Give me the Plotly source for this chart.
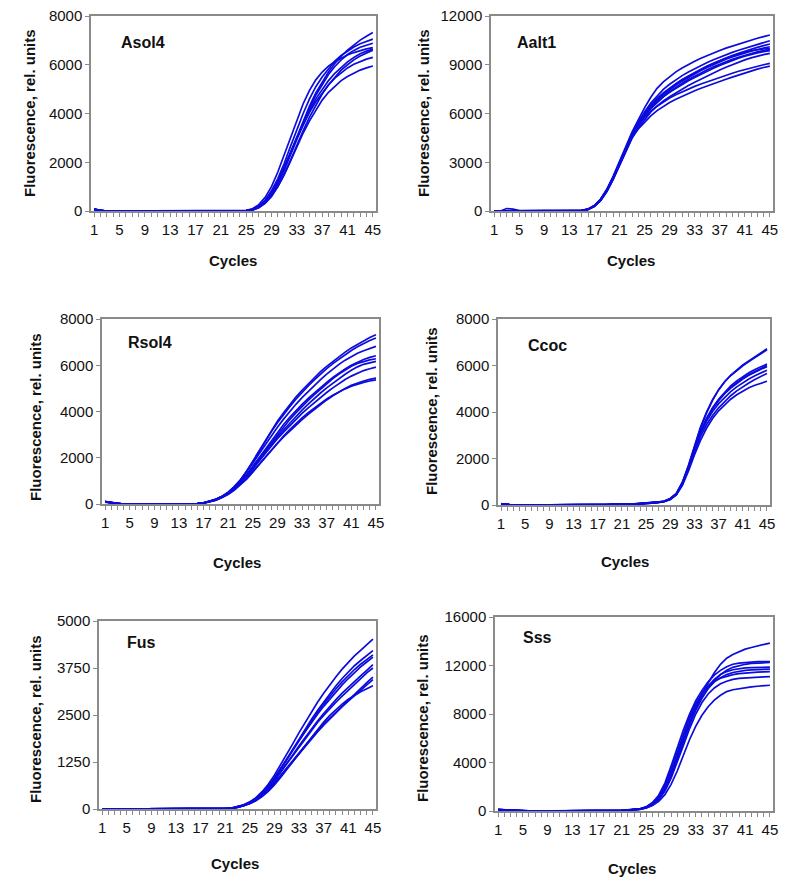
import plotly.graph_objects as go

# ---------------- data ----------------
cycles = list(range(1, 46))
x_label_cycles = [1, 5, 9, 13, 17, 21, 25, 29, 33, 37, 41, 45]

asol4 = [
    [80,20, 0,0,0,0,0,0,0,0,0,0, 0,0,0,0,0,0,0,0,0,0, 0,0, 15,50,160,380,720,1180,1750,2400,3050,3700,4300,4850,5300,5700,6050,6350,6600,6820,7010,7170,7320],
    [60,20, 0,0,0,0,0,0,0,0,0,0, 0,0,0,0,0,0,0,0,0,0, 0,0, 20,70,200,450,830,1330,1950,2650,3350,4000,4600,5100,5500,5850,6150,6380,6570,6730,6860,6960,7050],
    [70,15, 0,0,0,0,0,0,0,0,0,0, 0,0,0,0,0,0,0,0,0,0, 0,0, 10,40,140,340,660,1100,1650,2300,2950,3600,4200,4750,5200,5600,5930,6200,6420,6590,6720,6810,6880],
    [90,25, 0,0,0,0,0,0,0,0,0,0, 0,0,0,0,0,0,0,0,0,0, 0,0, 25,90,260,560,1000,1600,2300,3050,3750,4400,4950,5380,5700,5940,6130,6280,6400,6500,6590,6650,6700],
    [50,10, 0,0,0,0,0,0,0,0,0,0, 0,0,0,0,0,0,0,0,0,0, 0,0, 15,55,170,390,730,1180,1730,2350,2980,3580,4120,4600,5000,5350,5650,5900,6120,6300,6450,6560,6640],
    [70,20, 0,0,0,0,0,0,0,0,0,0, 0,0,0,0,0,0,0,0,0,0, 0,0, 10,40,130,310,600,1000,1500,2080,2700,3300,3850,4350,4800,5180,5500,5780,6000,6200,6360,6490,6600],
    [80,20, 0,0,0,0,0,0,0,0,0,0, 0,0,0,0,0,0,0,0,0,0, 0,0, 20,65,190,420,780,1250,1800,2400,3000,3550,4050,4480,4850,5170,5450,5680,5870,6020,6140,6230,6300],
    [60,15, 0,0,0,0,0,0,0,0,0,0, 0,0,0,0,0,0,0,0,0,0, 0,0, 10,40,150,330,620,1000,1480,2050,2650,3200,3700,4150,4550,4870,5130,5350,5520,5660,5780,5870,5950],
]

aalt1 = [
    [0,0,150,110,20,0,0,0,0,0, 0,0,0,0, 40,120,340,740,1350,2150,3080,4000,4850,5600,6350,7000,7550,7950,8280,8560,8800,9020,9220,9400,9570,9730,9880,10020,10150,10280,10400,10520,10630,10730,10830],
    [0,0,0,0,0,0,0,0,0,0, 0,0,0,0, 30,110,320,700,1280,2050,2950,3850,4700,5450,6100,6650,7100,7480,7800,8080,8330,8560,8770,8960,9140,9310,9470,9620,9760,9890,10010,10130,10250,10370,10480],
    [0,0,0,0,0,0,0,0,0,0, 0,0,0,0, 35,115,330,720,1300,2080,2980,3880,4680,5350,5980,6480,6880,7220,7520,7800,8060,8300,8520,8720,8910,9090,9260,9420,9570,9710,9840,9960,10070,10180,10280],
    [0,0,0,0,0,0,0,0,0,0, 0,0,0,0, 30,100,300,680,1250,2000,2900,3800,4600,5280,5880,6380,6800,7150,7460,7740,7990,8220,8440,8640,8830,9010,9180,9340,9480,9610,9730,9840,9940,10030,10110],
    [0,0,0,0,0,0,0,0,0,0, 0,0,0,0, 25,95,290,660,1220,1980,2880,3780,4580,5250,5830,6300,6700,7040,7340,7610,7860,8090,8300,8500,8690,8870,9040,9190,9330,9460,9580,9690,9790,9870,9950],
    [0,0,0,0,0,0,0,0,0,0, 0,0,0,0, 35,110,320,710,1290,2060,2960,3860,4660,5320,5900,6350,6720,7030,7310,7560,7790,8010,8220,8420,8610,8790,8960,9120,9270,9410,9530,9640,9730,9810,9870],
    [0,0,0,0,0,0,0,0,0,0, 0,0,0,0, 30,105,310,690,1260,2020,2920,3820,4620,5250,5750,6150,6480,6770,7030,7270,7500,7720,7930,8130,8320,8500,8680,8850,9010,9160,9300,9420,9530,9620,9700],
    [0,0,0,0,0,0,0,0,0,0, 0,0,0,0, 25,90,280,640,1200,1950,2820,3700,4480,5100,5600,6100,6450,6720,6950,7150,7340,7510,7670,7820,7960,8100,8230,8360,8480,8600,8710,8820,8920,9000,9080],
    [0,0,0,0,0,0,0,0,0,0, 0,0,0,0, 30,100,300,670,1240,1980,2850,3700,4500,5050,5450,5850,6180,6450,6680,6880,7070,7240,7400,7550,7700,7840,7980,8110,8240,8370,8500,8620,8730,8830,8920],
    [0,0,0,0,0,0,0,0,0,0, 0,0,0,0, 35,120,330,720,1300,2070,2970,3870,4680,5360,6000,6520,6930,7270,7570,7840,8090,8320,8530,8730,8920,9100,9260,9410,9550,9670,9770,9860,9930,9970,10000],
]

rsol4 = [
    [100,60,10, 0,0,0,0,0,0,0,0,0,0,0,0, 20,50,110,200,330,500,750,1050,1420,1850,2300,2750,3180,3580,3950,4300,4620,4920,5200,5470,5720,5950,6170,6380,6570,6750,6910,7060,7200,7320],
    [90,50,10, 0,0,0,0,0,0,0,0,0,0,0,0, 15,45,100,190,320,490,730,1030,1400,1820,2260,2700,3120,3510,3870,4210,4530,4830,5110,5370,5620,5850,6070,6270,6460,6640,6800,6950,7070,7180],
    [110,60,10, 0,0,0,0,0,0,0,0,0,0,0,0, 20,55,115,210,340,510,750,1040,1380,1760,2160,2560,2950,3320,3670,4000,4310,4600,4870,5130,5380,5620,5840,6040,6220,6380,6520,6630,6730,6815],
    [80,50,10, 0,0,0,0,0,0,0,0,0,0,0,0, 15,40,95,180,300,460,680,950,1270,1630,2010,2390,2760,3110,3440,3750,4040,4310,4570,4810,5040,5260,5470,5660,5840,6000,6140,6250,6340,6410],
    [100,55,10, 0,0,0,0,0,0,0,0,0,0,0,0, 20,50,110,200,320,480,700,960,1270,1610,1970,2330,2680,3020,3340,3650,3940,4220,4480,4730,4970,5200,5420,5620,5800,5960,6080,6170,6230,6280],
    [90,50,10, 0,0,0,0,0,0,0,0,0,0,0,0, 15,45,100,185,300,450,650,900,1190,1520,1870,2220,2560,2890,3200,3500,3790,4060,4320,4570,4800,5020,5230,5430,5610,5780,5930,6040,6110,6170],
    [100,60,10, 0,0,0,0,0,0,0,0,0,0,0,0, 20,50,105,190,305,460,670,920,1210,1530,1860,2190,2510,2820,3110,3390,3660,3920,4160,4390,4610,4820,5020,5210,5380,5530,5660,5770,5850,5920],
    [80,50,10, 0,0,0,0,0,0,0,0,0,0,0,0, 15,40,90,170,280,420,610,840,1110,1410,1720,2030,2330,2620,2900,3160,3410,3650,3880,4100,4310,4500,4680,4850,5000,5130,5240,5320,5390,5440],
    [90,55,10, 0,0,0,0,0,0,0,0,0,0,0,0, 10,40,90,170,280,420,600,820,1080,1380,1700,2020,2340,2650,2940,3220,3480,3720,3950,4160,4360,4540,4700,4850,4980,5090,5180,5260,5320,5370],
]

ccoc = [
    [50,10, 0,0,0,0,0,0,0,0,0,0, 0,0,0,0,0,0, 30,40,20,30,40,50,70,80,110, 160,270,490,960,1660,2500,3300,3950,4500,4950,5300,5580,5820,6020,6200,6370,6540,6720],
    [40,10, 0,0,0,0,0,0,0,0,0,0, 0,0,0,0,0,0, 20,50,30,30,40,60,70,90,120, 170,280,500,980,1700,2550,3350,4000,4530,4960,5300,5570,5800,5990,6170,6340,6510,6680],
    [60,10, 0,0,0,0,0,0,0,0,0,0, 0,0,0,0,0,0, 30,30,20,40,40,50,60,80,100, 150,250,460,920,1600,2400,3150,3720,4180,4550,4860,5120,5340,5530,5690,5830,5950,6060],
    [50,10, 0,0,0,0,0,0,0,0,0,0, 0,0,0,0,0,0, 40,50,30,30,50,60,80,90,110, 160,260,470,930,1620,2420,3150,3700,4150,4510,4810,5060,5270,5450,5610,5750,5880,6000],
    [50,10, 0,0,0,0,0,0,0,0,0,0, 0,0,0,0,0,0, 20,30,20,30,30,50,60,70,100, 140,240,440,880,1550,2350,3100,3680,4140,4500,4790,5030,5240,5420,5580,5720,5840,5950],
    [50,10, 0,0,0,0,0,0,0,0,0,0, 0,0,0,0,0,0, 30,40,30,40,50,60,70,90,120, 160,270,480,930,1600,2380,3080,3600,4020,4360,4640,4880,5080,5260,5420,5560,5690,5800],
    [40,10, 0,0,0,0,0,0,0,0,0,0, 0,0,0,0,0,0, 20,30,20,30,40,50,60,80,110, 150,260,460,900,1560,2300,2950,3450,3850,4180,4460,4700,4910,5090,5250,5400,5540,5660],
    [50,10, 0,0,0,0,0,0,0,0,0,0, 0,0,0,0,0,0, 30,40,30,30,40,50,70,80,110, 150,240,430,850,1450,2150,2780,3300,3720,4050,4320,4550,4740,4900,5040,5150,5240,5320],
]

fus = [
    [0,0,0,0,0,0,0,0,0,0, 0,0,0,0,0,0,0,0,0,0, 10,25,60,110,190,300,460,660,900,1170,1450,1740,2030,2310,2580,2840,3080,3310,3520,3720,3900,4070,4220,4370,4520],
    [0,0,0,0,0,0,0,0,0,0, 0,0,0,0,0,0,0,0,0,0, 10,20,55,100,175,280,420,600,820,1060,1320,1590,1860,2120,2380,2620,2850,3070,3280,3470,3650,3810,3950,4080,4210],
    [0,0,0,0,0,0,0,0,0,0, 0,0,0,0,0,0,0,0,0,0, 5,20,50,95,170,270,410,590,800,1040,1300,1560,1820,2080,2330,2570,2790,3000,3200,3380,3550,3710,3850,3980,4100],
    [0,0,0,0,0,0,0,0,0,0, 0,0,0,0,0,0,0,0,0,0, 10,25,60,105,180,285,430,610,830,1070,1320,1580,1830,2070,2300,2520,2730,2930,3120,3300,3470,3630,3780,3910,4040],
    [0,0,0,0,0,0,0,0,0,0, 0,0,0,0,0,0,0,0,0,0, 5,20,50,90,160,255,385,550,750,970,1200,1440,1680,1910,2130,2340,2540,2730,2910,3080,3240,3390,3540,3690,3840],
    [0,0,0,0,0,0,0,0,0,0, 0,0,0,0,0,0,0,0,0,0, 10,20,55,100,170,265,395,560,760,980,1210,1440,1670,1890,2100,2300,2490,2670,2840,3000,3160,3320,3470,3620,3750],
    [0,0,0,0,0,0,0,0,0,0, 0,0,0,0,0,0,0,0,0,0, 5,15,45,85,150,240,360,510,690,890,1100,1310,1520,1720,1910,2090,2260,2420,2580,2730,2880,3040,3200,3360,3510],
    [0,0,0,0,0,0,0,0,0,0, 0,0,0,0,0,0,0,0,0,0, 10,20,50,90,155,245,365,515,690,880,1080,1280,1480,1680,1870,2050,2230,2400,2560,2720,2870,3020,3160,3300,3440],
    [0,0,0,0,0,0,0,0,0,0, 0,0,0,0,0,0,0,0,0,0, 5,15,40,80,140,220,330,470,640,840,1050,1270,1490,1710,1920,2120,2310,2490,2650,2790,2920,3030,3120,3200,3280],
]

sss = [
    [120,100,20, 0,0,0,0,0,0,0,0,0,0, 0,0,0,0,0,0,0, 50,80,100,150,300,600,1100,1900,3000,4400,5900,7300,8600,9700,10600,11400,12100,12600,12900,13150,13350,13480,13600,13720,13850],
    [100,80,20, 0,0,0,0,0,0,0,0,0,0, 0,0,0,0,0,0,0, 60,90,120,180,350,700,1300,2300,3700,5200,6700,8000,9100,9950,10650,11200,11600,11900,12100,12200,12260,12300,12320,12330,12330],
    [110,90,20, 0,0,0,0,0,0,0,0,0,0, 0,0,0,0,0,0,0, 40,70,100,150,280,520,950,1700,2800,4200,5700,7100,8300,9300,10100,10750,11250,11600,11850,12000,12100,12170,12210,12240,12250],
    [130,100,20, 0,0,0,0,0,0,0,0,0,0, 0,0,0,0,0,0,0, 50,80,110,170,320,620,1150,2000,3200,4700,6200,7600,8700,9600,10300,10850,11250,11500,11650,11750,11800,11830,11850,11860,11860],
    [100,90,20, 0,0,0,0,0,0,0,0,0,0, 0,0,0,0,0,0,0, 50,70,100,160,300,580,1050,1850,3000,4400,5900,7300,8500,9400,10100,10650,11000,11250,11420,11530,11600,11640,11670,11690,11700],
    [120,100,20, 0,0,0,0,0,0,0,0,0,0, 0,0,0,0,0,0,0, 60,90,120,180,340,650,1200,2100,3400,4900,6400,7800,8900,9700,10300,10700,10950,11120,11250,11330,11390,11430,11460,11480,11500],
    [110,90,20, 0,0,0,0,0,0,0,0,0,0, 0,0,0,0,0,0,0, 40,70,90,140,270,520,950,1650,2700,4000,5400,6800,8000,8950,9650,10150,10500,10700,10850,10930,10980,11020,11050,11070,11090],
    [100,80,20, 0,0,0,0,0,0,0,0,0,0, 0,0,0,0,0,0,0, 50,70,100,150,250,450,800,1350,2200,3300,4600,5900,7000,7900,8600,9150,9550,9850,10000,10100,10180,10240,10290,10340,10370],
]

panel_names = ["Asol4", "Aalt1", "Rsol4", "Ccoc", "Fus", "Sss"]
panel_curves = [asol4, aalt1, rsol4, ccoc, fus, sss]
y_ticks = [
    [0, 2000, 4000, 6000, 8000],
    [0, 3000, 6000, 9000, 12000],
    [0, 2000, 4000, 6000, 8000],
    [0, 2000, 4000, 6000, 8000],
    [0, 1250, 2500, 3750, 5000],
    [0, 4000, 8000, 12000, 16000],
]
y_title = "Fluorescence, rel. units"
x_title = "Cycles"

for curves in panel_curves:
    for c in curves:
        assert len(c) == 45, len(c)

# ---------------- layout (pixel geometry of the reference) ----------------
W, H = 788, 882
# plot frames: (left, right, top, bottom) in pixels
frames = [
    (91, 376, 16, 211),
    (491, 773, 16, 211),
    (102, 379, 319, 504),
    (498, 770, 319, 505),
    (99, 376, 621, 809),
    (495, 773, 617, 811),
]
ytitle_pos = [(30, 113), (424, 113), (35, 417), (432, 411), (35, 719), (422, 718)]
xtitle_pos = [(233, 260), (631, 260), (237, 562), (625, 561), (235, 863), (632, 868)]
label_pos = [(119, 42), (515, 42), (126, 342), (526, 345), (125, 642), (521, 637)]

FONT = "Liberation Sans, Arial, sans-serif"
LINE_BLUE = "#0b0bdc"
FRAME = "#8a8a8a"

fig = go.Figure()
annotations = []
layout_axes = {}

for i, (name, curves) in enumerate(zip(panel_names, panel_curves)):
    n = i + 1
    xa = "x" if n == 1 else f"x{n}"
    ya = "y" if n == 1 else f"y{n}"
    for c in curves:
        fig.add_trace(go.Scatter(
            x=cycles, y=c, mode="lines", xaxis=xa, yaxis=ya,
            line=dict(color=LINE_BLUE, width=1.7), hoverinfo="skip",
            showlegend=False,
        ))
    l, r, t, b = frames[i]
    xkey = "xaxis" if n == 1 else f"xaxis{n}"
    ykey = "yaxis" if n == 1 else f"yaxis{n}"
    layout_axes[xkey] = dict(
        domain=[l / W, r / W], anchor=ya, range=[0.5, 45.5],
        tickmode="array", tickvals=cycles,
        ticktext=[str(c) if c in x_label_cycles else "" for c in cycles],
        ticks="outside", ticklen=4, tickcolor=FRAME, tickwidth=1,
        tickfont=dict(family=FONT, size=15, color="#111"),
        showline=True, linecolor=FRAME, linewidth=1.5, mirror=True,
        showgrid=False, zeroline=False, fixedrange=True, automargin=False,
    )
    yt = y_ticks[i]
    layout_axes[ykey] = dict(
        domain=[1 - b / H, 1 - t / H], anchor=xa, range=[yt[0], yt[-1]],
        tickmode="array", tickvals=yt, ticktext=[str(v) for v in yt],
        ticks="outside", ticklen=4, tickcolor=FRAME, tickwidth=1,
        tickfont=dict(family=FONT, size=15, color="#111"),
        showline=True, linecolor=FRAME, linewidth=1.5, mirror=True,
        showgrid=False, zeroline=False, fixedrange=True, automargin=False,
    )
    tx, ty = ytitle_pos[i]
    annotations.append(dict(
        text=f"<b>{y_title}</b>", xref="paper", yref="paper",
        x=tx / W, y=1 - ty / H, xanchor="center", yanchor="middle",
        textangle=-90, showarrow=False,
        font=dict(family=FONT, size=15, color="#111"),
    ))
    cx, cy = xtitle_pos[i]
    annotations.append(dict(
        text=f"<b>{x_title}</b>", xref="paper", yref="paper",
        x=cx / W, y=1 - cy / H, xanchor="center", yanchor="middle",
        showarrow=False, font=dict(family=FONT, size=15, color="#111"),
    ))
    lx, ly = label_pos[i]
    annotations.append(dict(
        text=f"<b>{name}</b>", xref="paper", yref="paper",
        x=lx / W, y=1 - ly / H, xanchor="left", yanchor="middle",
        showarrow=False, font=dict(family=FONT, size=16, color="#111"),
    ))

fig.update_layout(
    width=W, height=H, margin=dict(l=0, r=0, t=0, b=0, pad=0, autoexpand=False),
    paper_bgcolor="white", plot_bgcolor="white",
    showlegend=False, annotations=annotations, **layout_axes,
)

fig.write_html(
    "out.html",
    config={"displayModeBar": False},
    post_script="document.body.style.margin='0';document.body.style.overflow='hidden';",
)
